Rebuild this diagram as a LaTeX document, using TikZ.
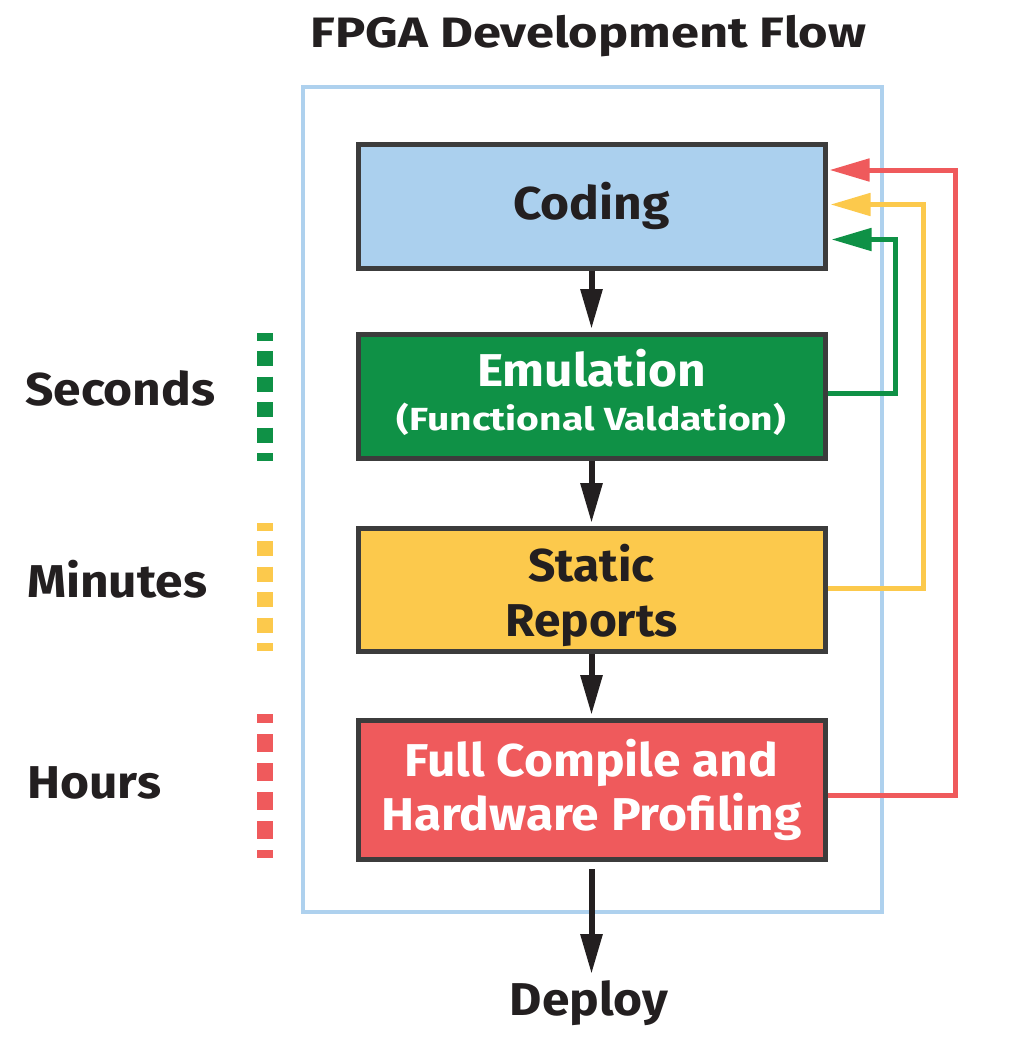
\documentclass[tikz,border=0pt]{standalone}
\usepackage{fontspec}
\setmainfont{Fira Sans}
\newfontfamily\bodyfont{Fira Sans}[FakeStretch=1.08]
\newfontfamily\narrowbody{Fira Sans}[FakeStretch=1.04]
\newfontfamily\titlefont{Fira Sans}[FakeStretch=1.19]
\newfontfamily\subfont{Fira Sans}[FakeStretch=1.22]
\usetikzlibrary{arrows.meta}
\definecolor{ink}{HTML}{231F20}
\definecolor{boxline}{HTML}{3C3C3C}
\definecolor{frameblue}{HTML}{AED1EE}
\definecolor{codefill}{HTML}{ABD0EE}
\definecolor{emgreen}{HTML}{0F9146}
\definecolor{styellow}{HTML}{FCC94C}
\definecolor{fcred}{HTML}{EF5A5C}
\tikzset{
  stagebox/.style={draw=boxline, line width=5pt, minimum width=467pt, inner sep=0pt, align=center,
    font=\bodyfont\bfseries\fontsize{46}{54}\selectfont},
  flowarrow/.style={draw=ink, line width=6pt, -{Triangle[length=40pt,width=21pt]}},
  fbarrow/.style={line width=5pt, -{Triangle[length=40pt,width=22pt]}},
  timebar/.style={line width=16pt},
  sidelabel/.style={font=\bodyfont\bfseries\fontsize{46}{54}\selectfont, text=ink, anchor=base west, inner sep=0pt},
}
\begin{document}
\begin{tikzpicture}[x=1pt,y=-1pt]
\useasboundingbox[fill=white] (0,0) rectangle (1030,1041);
% title
\node[font=\titlefont\bfseries\fontsize{42.5}{48}\selectfont, text=ink, anchor=base, inner sep=0pt] (title) at (588.5,48) {FPGA Development Flow};
% frame
\draw[frameblue, line width=4pt] (303,87) rectangle (882,912);
% stages
\node[stagebox, fill=codefill, text=ink, minimum height=124pt] (coding) at (591.5,206) {Coding};
\node[stagebox, fill=emgreen, text=white, minimum height=124pt, font=\bodyfont\bfseries\fontsize{46}{44}\selectfont] (emul) at (591.5,396.5)
  {Emulation\\{\subfont\bfseries\fontsize{32}{44}\selectfont(Functional Valdation)\rule[-13pt]{0pt}{13pt}}};
\node[stagebox, fill=styellow, text=ink, minimum height=123pt, font=\narrowbody\bfseries\fontsize{46}{55}\selectfont] (static) at (591.5,590) {\rule{0pt}{48pt}Static\\Reports};
\node[stagebox, fill=fcred, text=white, minimum height=139pt] (full) at (591.5,790) {Full Compile and\\Hardware Profiling};
% deploy
\node[font=\bodyfont\bfseries\fontsize{46}{54}\selectfont, text=ink, anchor=base, inner sep=0pt] (deploy) at (589,1015) {Deploy};
\coordinate (dtip) at (591.5,974);
% flow arrows
\draw[flowarrow, shorten >=3pt] (coding.south) -- (emul.north);
\draw[flowarrow, shorten >=3pt] (emul.south) -- (static.north);
\draw[flowarrow, shorten >=3pt] (static.south) -- (full.south |- 0,718);
\draw[flowarrow, shorten <=7pt] (full.south) -- (dtip);
% feedback arrows
\draw[fbarrow, emgreen] ([yshift=3pt]emul.east) -| (895.5,239.5) -- ([xshift=4pt]coding.east |- 0,239.5);
\draw[fbarrow, styellow] ([yshift=2pt]static.east) -| (923.5,204.5) -- ([xshift=3pt]coding.east |- 0,204.5);
\draw[fbarrow, fcred] ([yshift=-5pt]full.east) -| (955,170) -- ([xshift=2pt]coding.east |- 0,170);
% time labels
\node[sidelabel] (seconds) at (25,405) {Seconds};
\node[sidelabel] (minutes) at (27,597) {Minutes};
\node[sidelabel] (hours) at (27,798) {Hours};
% time bars
\coordinate (gb1) at (264.5,333); \coordinate (gb2) at (264.5,461);
\coordinate (yb1) at (264.5,523); \coordinate (yb2) at (264.5,651);
\coordinate (rb1) at (265,714); \coordinate (rb2) at (265,858);
\draw[timebar, emgreen, dash pattern=on 15pt off 10.5pt, dash phase=7.5pt] (gb1) -- (gb2);
\draw[timebar, styellow, dash pattern=on 15pt off 10.5pt, dash phase=7.5pt] (yb1) -- (yb2);
\draw[timebar, fcred, dash pattern=on 18pt off 11pt, dash phase=9pt] (rb1) -- (rb2);
\end{tikzpicture}
\end{document}
